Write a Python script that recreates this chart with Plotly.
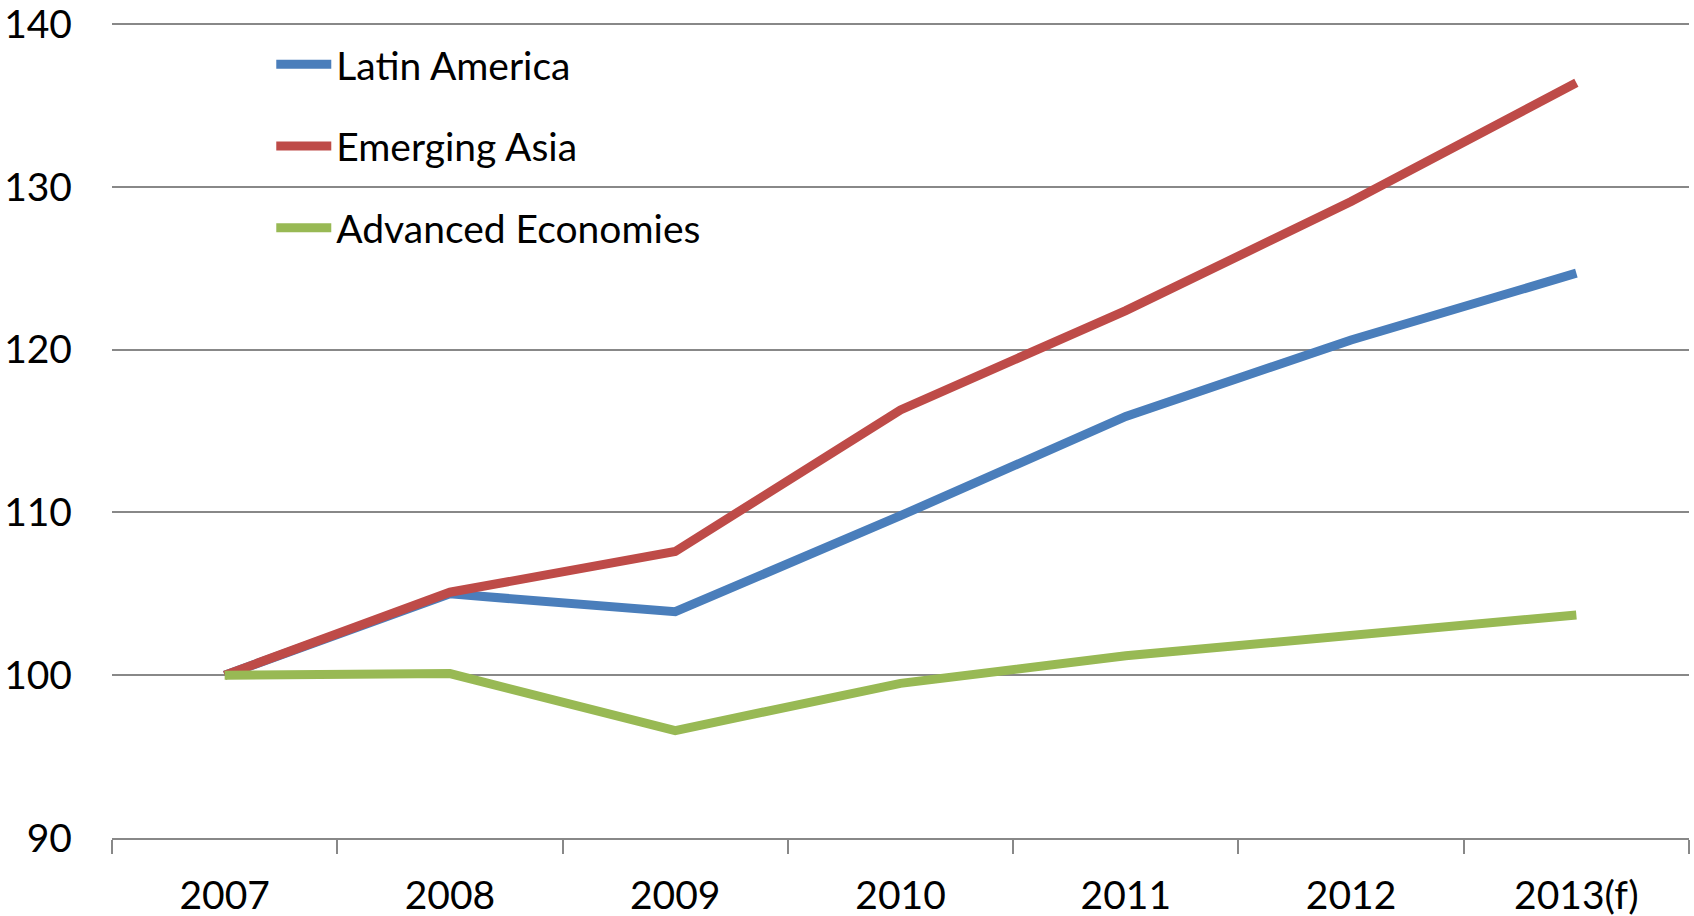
import plotly.graph_objects as go

years = ["2007", "2008", "2009", "2010", "2011", "2012", "2013(f)"]
latin_america = [100.0, 105.0, 103.9, 109.8, 115.9, 120.6, 124.7]
emerging_asia = [100.0, 105.1, 107.6, 116.3, 122.4, 129.1, 136.4]
advanced_economies = [100.0, 100.1, 96.6, 99.5, 101.2, 102.5, 103.7]

series = [
    ("Latin America", latin_america, "#4A7EBB"),
    ("Emerging Asia", emerging_asia, "#BE4B48"),
    ("Advanced Economies", advanced_economies, "#98B954"),
]

FONT = "Lato, Open Sans, sans-serif"

fig = go.Figure()
for i, (name, vals, color) in enumerate(series):
    fig.add_trace(go.Scatter(
        x=years, y=vals, name=name, mode="lines",
        line=dict(color=color, width=9),
        legendgroup=f"g{i}",
    ))

fig.update_layout(
    width=1694, height=916,
    margin=dict(l=112, r=5, t=16, b=78, autoexpand=False),
    paper_bgcolor="white", plot_bgcolor="white",
    font=dict(family=FONT, size=39, color="black"),
    showlegend=True,
    legend=dict(
        x=0.101, y=0.98, xanchor="left", yanchor="top",
        bgcolor="rgba(0,0,0,0)",
        font=dict(family=FONT, size=39, color="black"),
        tracegroupgap=28,
        itemwidth=55,
    ),
    xaxis=dict(
        type="category",
        range=[-0.5, 6.5],
        automargin=False,
        showgrid=False,
        showline=True, linecolor="#888888", linewidth=2,
        ticks="outside", ticklen=14, tickwidth=2, tickcolor="#888888",
        tickson="boundaries",
        tickfont=dict(family=FONT, size=39, color="black"),
        ticklabelstandoff=22,
    ),
    yaxis=dict(
        range=[90, 140.5],
        automargin=False,
        tickvals=[90, 100, 110, 120, 130, 140],
        showgrid=True, gridcolor="#888888", gridwidth=2,
        zeroline=False, showline=False, ticks="",
        tickfont=dict(family=FONT, size=39, color="black"),
        ticklabelstandoff=39,
        ticklabeloverflow="allow",
    ),
)

fig.write_html("out.html")
